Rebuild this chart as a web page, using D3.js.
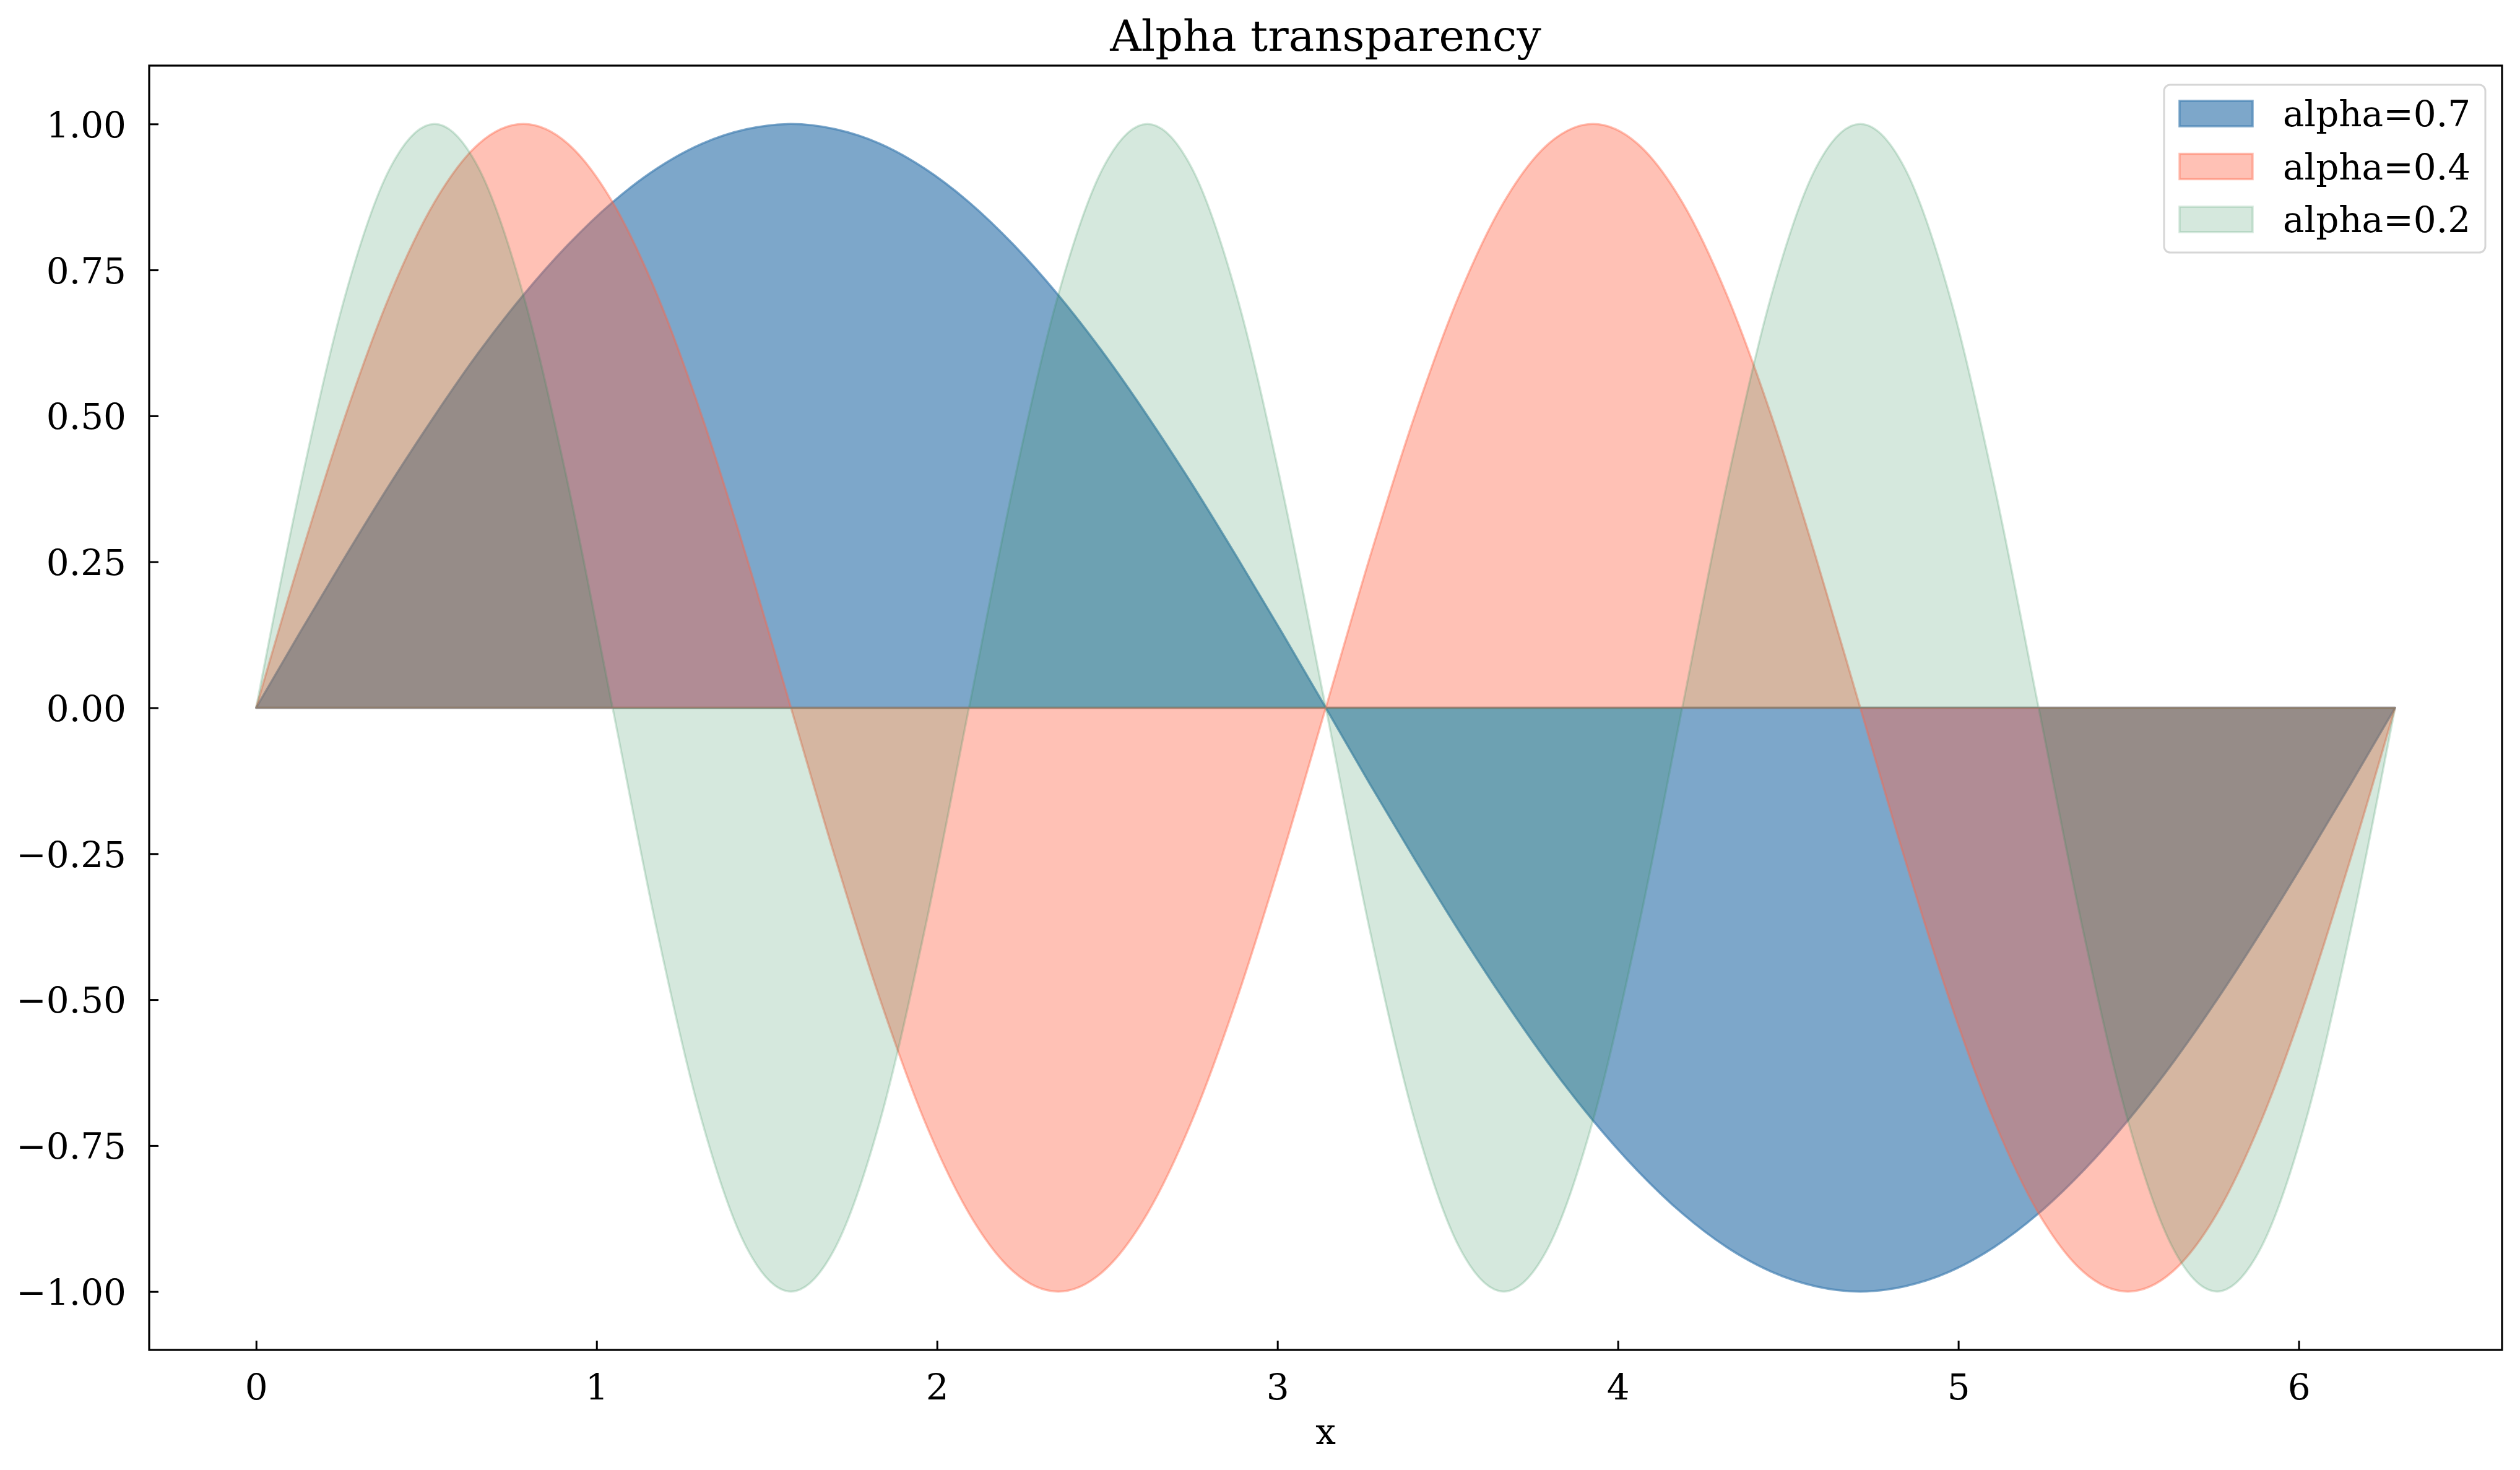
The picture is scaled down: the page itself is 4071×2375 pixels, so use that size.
<!DOCTYPE html>
<head>
  <meta charset="UTF-8">
  <script src="https://d3js.org/d3.v7.min.js"></script>
  <style>
    body { margin: 0; background: #fff; }
    text { font-family: "DejaVu Serif", serif; }
  </style>
</head>
<body>
  <div id="my_dataviz"></div>

  <script>
    // x positions of the samples (0 .. 2*pi)
    var xValues = [0, 0.131, 0.262, 0.393, 0.524, 0.654, 0.785, 0.916, 1.047, 1.178, 1.309, 1.440, 1.571,
      1.702, 1.833, 1.963, 2.094, 2.225, 2.356, 2.487, 2.618, 2.749, 2.880, 3.011, 3.142,
      3.272, 3.403, 3.534, 3.665, 3.796, 3.927, 4.058, 4.189, 4.320, 4.451, 4.581, 4.712,
      4.843, 4.974, 5.105, 5.236, 5.367, 5.498, 5.629, 5.760, 5.890, 6.021, 6.152, 6.283];

    // blue series (alpha 0.7)
    var waveLow = [0, 0.131, 0.259, 0.383, 0.500, 0.609, 0.707, 0.793, 0.866, 0.924, 0.966, 0.991, 1.000,
      0.991, 0.966, 0.924, 0.866, 0.793, 0.707, 0.609, 0.500, 0.383, 0.259, 0.131, 0,
      -0.131, -0.259, -0.383, -0.500, -0.609, -0.707, -0.793, -0.866, -0.924, -0.966, -0.991, -1.000,
      -0.991, -0.966, -0.924, -0.866, -0.793, -0.707, -0.609, -0.500, -0.383, -0.259, -0.131, 0];

    // red series (alpha 0.4)
    var waveMid = [0, 0.259, 0.500, 0.707, 0.866, 0.966, 1.000, 0.966, 0.866, 0.707, 0.500, 0.259, 0,
      -0.259, -0.500, -0.707, -0.866, -0.966, -1.000, -0.966, -0.866, -0.707, -0.500, -0.259, 0,
      0.259, 0.500, 0.707, 0.866, 0.966, 1.000, 0.966, 0.866, 0.707, 0.500, 0.259, 0,
      -0.259, -0.500, -0.707, -0.866, -0.966, -1.000, -0.966, -0.866, -0.707, -0.500, -0.259, 0];

    // green series (alpha 0.2)
    var waveHigh = [0, 0.383, 0.707, 0.924, 1.000, 0.924, 0.707, 0.383, 0,
      -0.383, -0.707, -0.924, -1.000, -0.924, -0.707, -0.383, 0,
      0.383, 0.707, 0.924, 1.000, 0.924, 0.707, 0.383, 0,
      -0.383, -0.707, -0.924, -1.000, -0.924, -0.707, -0.383, 0,
      0.383, 0.707, 0.924, 1.000, 0.924, 0.707, 0.383, 0,
      -0.383, -0.707, -0.924, -1.000, -0.924, -0.707, -0.383, 0];

    var seriesLabels = ["alpha=0.7", "alpha=0.4", "alpha=0.2"];
    var seriesColors = ["steelblue", "tomato", "seagreen"];
    var seriesAlphas = [0.7, 0.4, 0.2];

    var xTicks = [0, 1, 2, 3, 4, 5, 6];
    var yTicks = [-1.00, -0.75, -0.50, -0.25, 0.00, 0.25, 0.50, 0.75, 1.00];

    var titleText = "Alpha transparency";
    var xLabelText = "x";

    // set the dimensions and margins of the graph
    var totalWidth = 4071, totalHeight = 2375;
    var margin = { top: 106, right: 29, bottom: 194, left: 241 },
      width = totalWidth - margin.left - margin.right,
      height = totalHeight - margin.top - margin.bottom;

    var svgRoot = d3.select("#my_dataviz").append("svg")
      .attr("width", totalWidth)
      .attr("height", totalHeight);

    var svg = svgRoot.append("g")
      .attr("transform", "translate(" + margin.left + "," + margin.top + ")");

    // scales (5% margins like matplotlib)
    var xMin = d3.min(xValues), xMax = d3.max(xValues);
    var xPad = (xMax - xMin) * 0.05;
    var x = d3.scaleLinear()
      .domain([xMin - xPad, xMax + xPad])
      .range([0, width]);

    var y = d3.scaleLinear()
      .domain([-1.1, 1.1])
      .range([height, 0]);

    // filled areas between 0 and the curve
    var allSeries = [waveLow, waveMid, waveHigh];
    allSeries.forEach(function (values, i) {
      var points = values.map(function (v, j) { return [xValues[j], v]; });
      var area = d3.area()
        .x(function (d) { return x(d[0]); })
        .y0(y(0))
        .y1(function (d) { return y(d[1]); })
        .curve(d3.curveMonotoneX);
      svg.append("path")
        .datum(points)
        .attr("d", area)
        .attr("fill", seriesColors[i])
        .attr("fill-opacity", seriesAlphas[i])
        .attr("stroke", seriesColors[i])
        .attr("stroke-opacity", seriesAlphas[i])
        .attr("stroke-width", 3.5)
        .attr("stroke-linejoin", "round");
    });

    // x axis
    var xAxis = svg.append("g")
      .attr("transform", "translate(0," + height + ")")
      .call(d3.axisBottom(x).tickValues(xTicks).tickFormat(d3.format("d"))
        .tickSizeInner(-15).tickSizeOuter(0).tickPadding(39));
    xAxis.select(".domain").remove();

    // y axis
    var yAxis = svg.append("g")
      .call(d3.axisLeft(y).tickValues(yTicks).tickFormat(d3.format(".2f"))
        .tickSizeInner(-15).tickSizeOuter(0).tickPadding(37));
    yAxis.select(".domain").remove();
    yAxis.selectAll("text").attr("dy", "0.36em");

    svg.selectAll(".tick line")
      .attr("stroke", "black")
      .attr("stroke-width", 3);
    svg.selectAll(".tick text")
      .attr("fill", "black")
      .style("font-size", "58px")
      .style("font-family", "'DejaVu Serif', serif");

    // frame
    svg.append("rect")
      .attr("x", 0)
      .attr("y", 0)
      .attr("width", width)
      .attr("height", height)
      .attr("fill", "none")
      .attr("stroke", "black")
      .attr("stroke-width", 3.2);

    // title
    svg.append("text")
      .attr("x", width / 2)
      .attr("y", -24)
      .attr("text-anchor", "middle")
      .style("font-size", "70px")
      .text(titleText);

    // x label
    svg.append("text")
      .attr("x", width / 2)
      .attr("y", height + 152)
      .attr("text-anchor", "middle")
      .style("font-size", "58px")
      .text(xLabelText);

    // legend
    var legend = svg.append("g")
      .attr("transform", "translate(" + (width - 546) + ",31)");

    legend.append("rect")
      .attr("x", 0)
      .attr("y", 0)
      .attr("width", 519)
      .attr("height", 271)
      .attr("rx", 10)
      .attr("ry", 10)
      .attr("fill", "white")
      .attr("fill-opacity", 0.8)
      .attr("stroke", "#d6d6d6")
      .attr("stroke-width", 3);

    var rowStep = 85.5;
    seriesLabels.forEach(function (label, i) {
      legend.append("rect")
        .attr("x", 25)
        .attr("y", 26 + i * rowStep)
        .attr("width", 118)
        .attr("height", 41)
        .attr("fill", seriesColors[i])
        .attr("fill-opacity", seriesAlphas[i])
        .attr("stroke", seriesColors[i])
        .attr("stroke-opacity", seriesAlphas[i])
        .attr("stroke-width", 3.5);

      legend.append("text")
        .attr("x", 192)
        .attr("y", 67 + i * rowStep)
        .style("font-size", "58px")
        .text(label);
    });
  </script>
</body>
